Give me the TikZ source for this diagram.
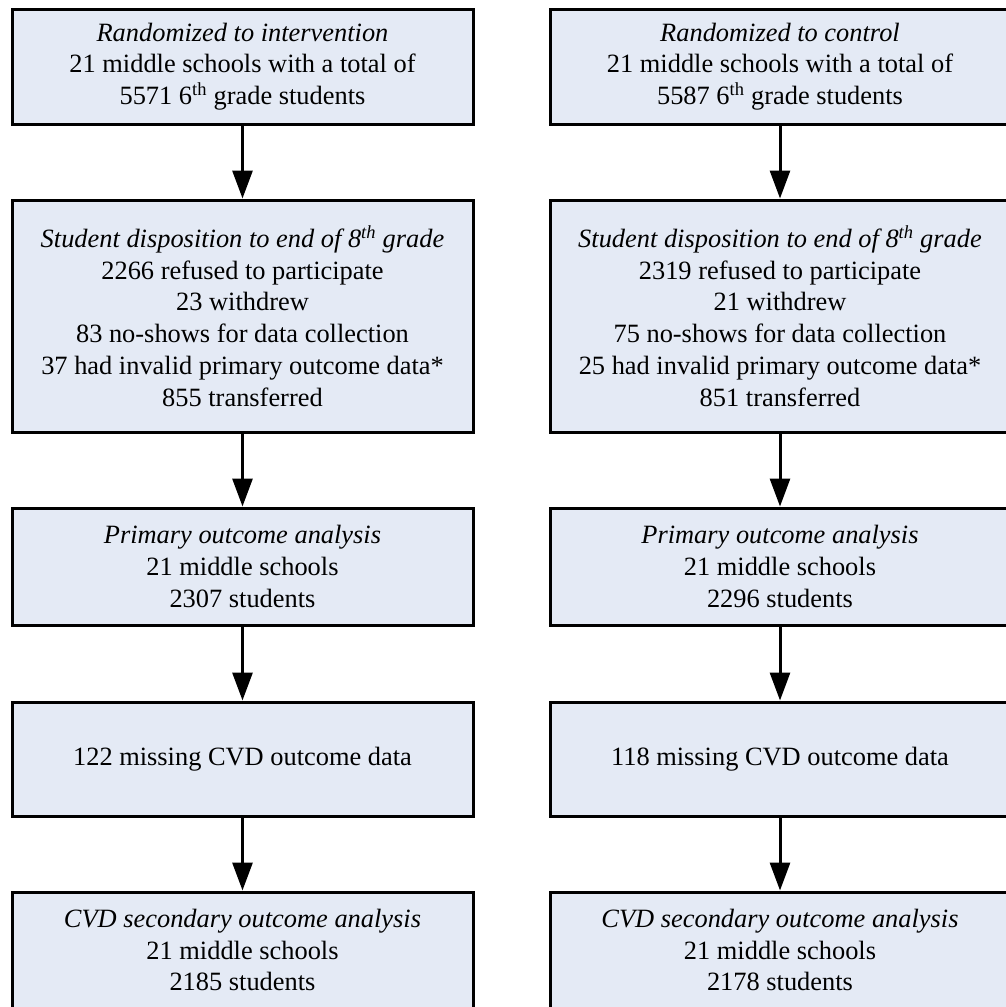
\documentclass[tikz,border=0pt]{standalone}
\usepackage{fontspec}
\setmainfont{Liberation Serif}
\usetikzlibrary{arrows.meta}
\definecolor{boxfill}{HTML}{E4EAF5}
\begin{document}
\begin{tikzpicture}[x=1pt,y=-1pt,
  flowbox/.style={draw=black, line width=3pt, fill=boxfill, align=center, inner sep=0pt,
    font=\fontsize{26.4}{31.7}\selectfont},
  leftbox/.style={flowbox, minimum width=461pt},
  rightbox/.style={flowbox, minimum width=460pt},
  arr/.style={line width=3pt, -{Triangle[width=20pt,length=28pt]}}]
\clip (0,0) rectangle (1006,1007);
% left column
\node[leftbox, minimum height=115pt] (l1) at (242.5,66.5)
  {\textit{Randomized to intervention}\\21 middle schools with a total of\\5571 6\textsuperscript{th} grade students};
\node[leftbox, minimum height=232pt] (l2) at (242.5,316)
  {\textit{Student disposition to end of 8\textsuperscript{th} grade}\\2266 refused to participate\\23 withdrew\\83 no-shows for data collection\\37 had invalid primary outcome data*\\855 transferred};
\node[leftbox, minimum height=117pt] (l3) at (242.5,566.5)
  {\textit{Primary outcome analysis}\\21 middle schools\\2307 students};
\node[leftbox, minimum height=114pt] (l4) at (242.5,759)
  {122 missing CVD outcome data};
\node[leftbox, minimum height=116pt] (l5) at (242.5,950)
  {\textit{CVD secondary outcome analysis}\\21 middle schools\\2185 students};
% right column
\node[rightbox, minimum height=115pt] (r1) at (780,66.5)
  {\textit{Randomized to control}\\21 middle schools with a total of\\5587 6\textsuperscript{th} grade students};
\node[rightbox, minimum height=232pt] (r2) at (780,316)
  {\textit{Student disposition to end of 8\textsuperscript{th} grade}\\2319 refused to participate\\21 withdrew\\75 no-shows for data collection\\25 had invalid primary outcome data*\\851 transferred};
\node[rightbox, minimum height=117pt] (r3) at (780,566.5)
  {\textit{Primary outcome analysis}\\21 middle schools\\2296 students};
\node[rightbox, minimum height=114pt] (r4) at (780,759)
  {118 missing CVD outcome data};
\node[rightbox, minimum height=116pt] (r5) at (780,950)
  {\textit{CVD secondary outcome analysis}\\21 middle schools\\2178 students};
% arrows
\foreach \a/\b in {l1/l2,l2/l3,l3/l4,l4/l5,r1/r2,r2/r3,r3/r4,r4/r5}
  \draw[arr] (\a.south) -- (\b.north);
\end{tikzpicture}
\end{document}
